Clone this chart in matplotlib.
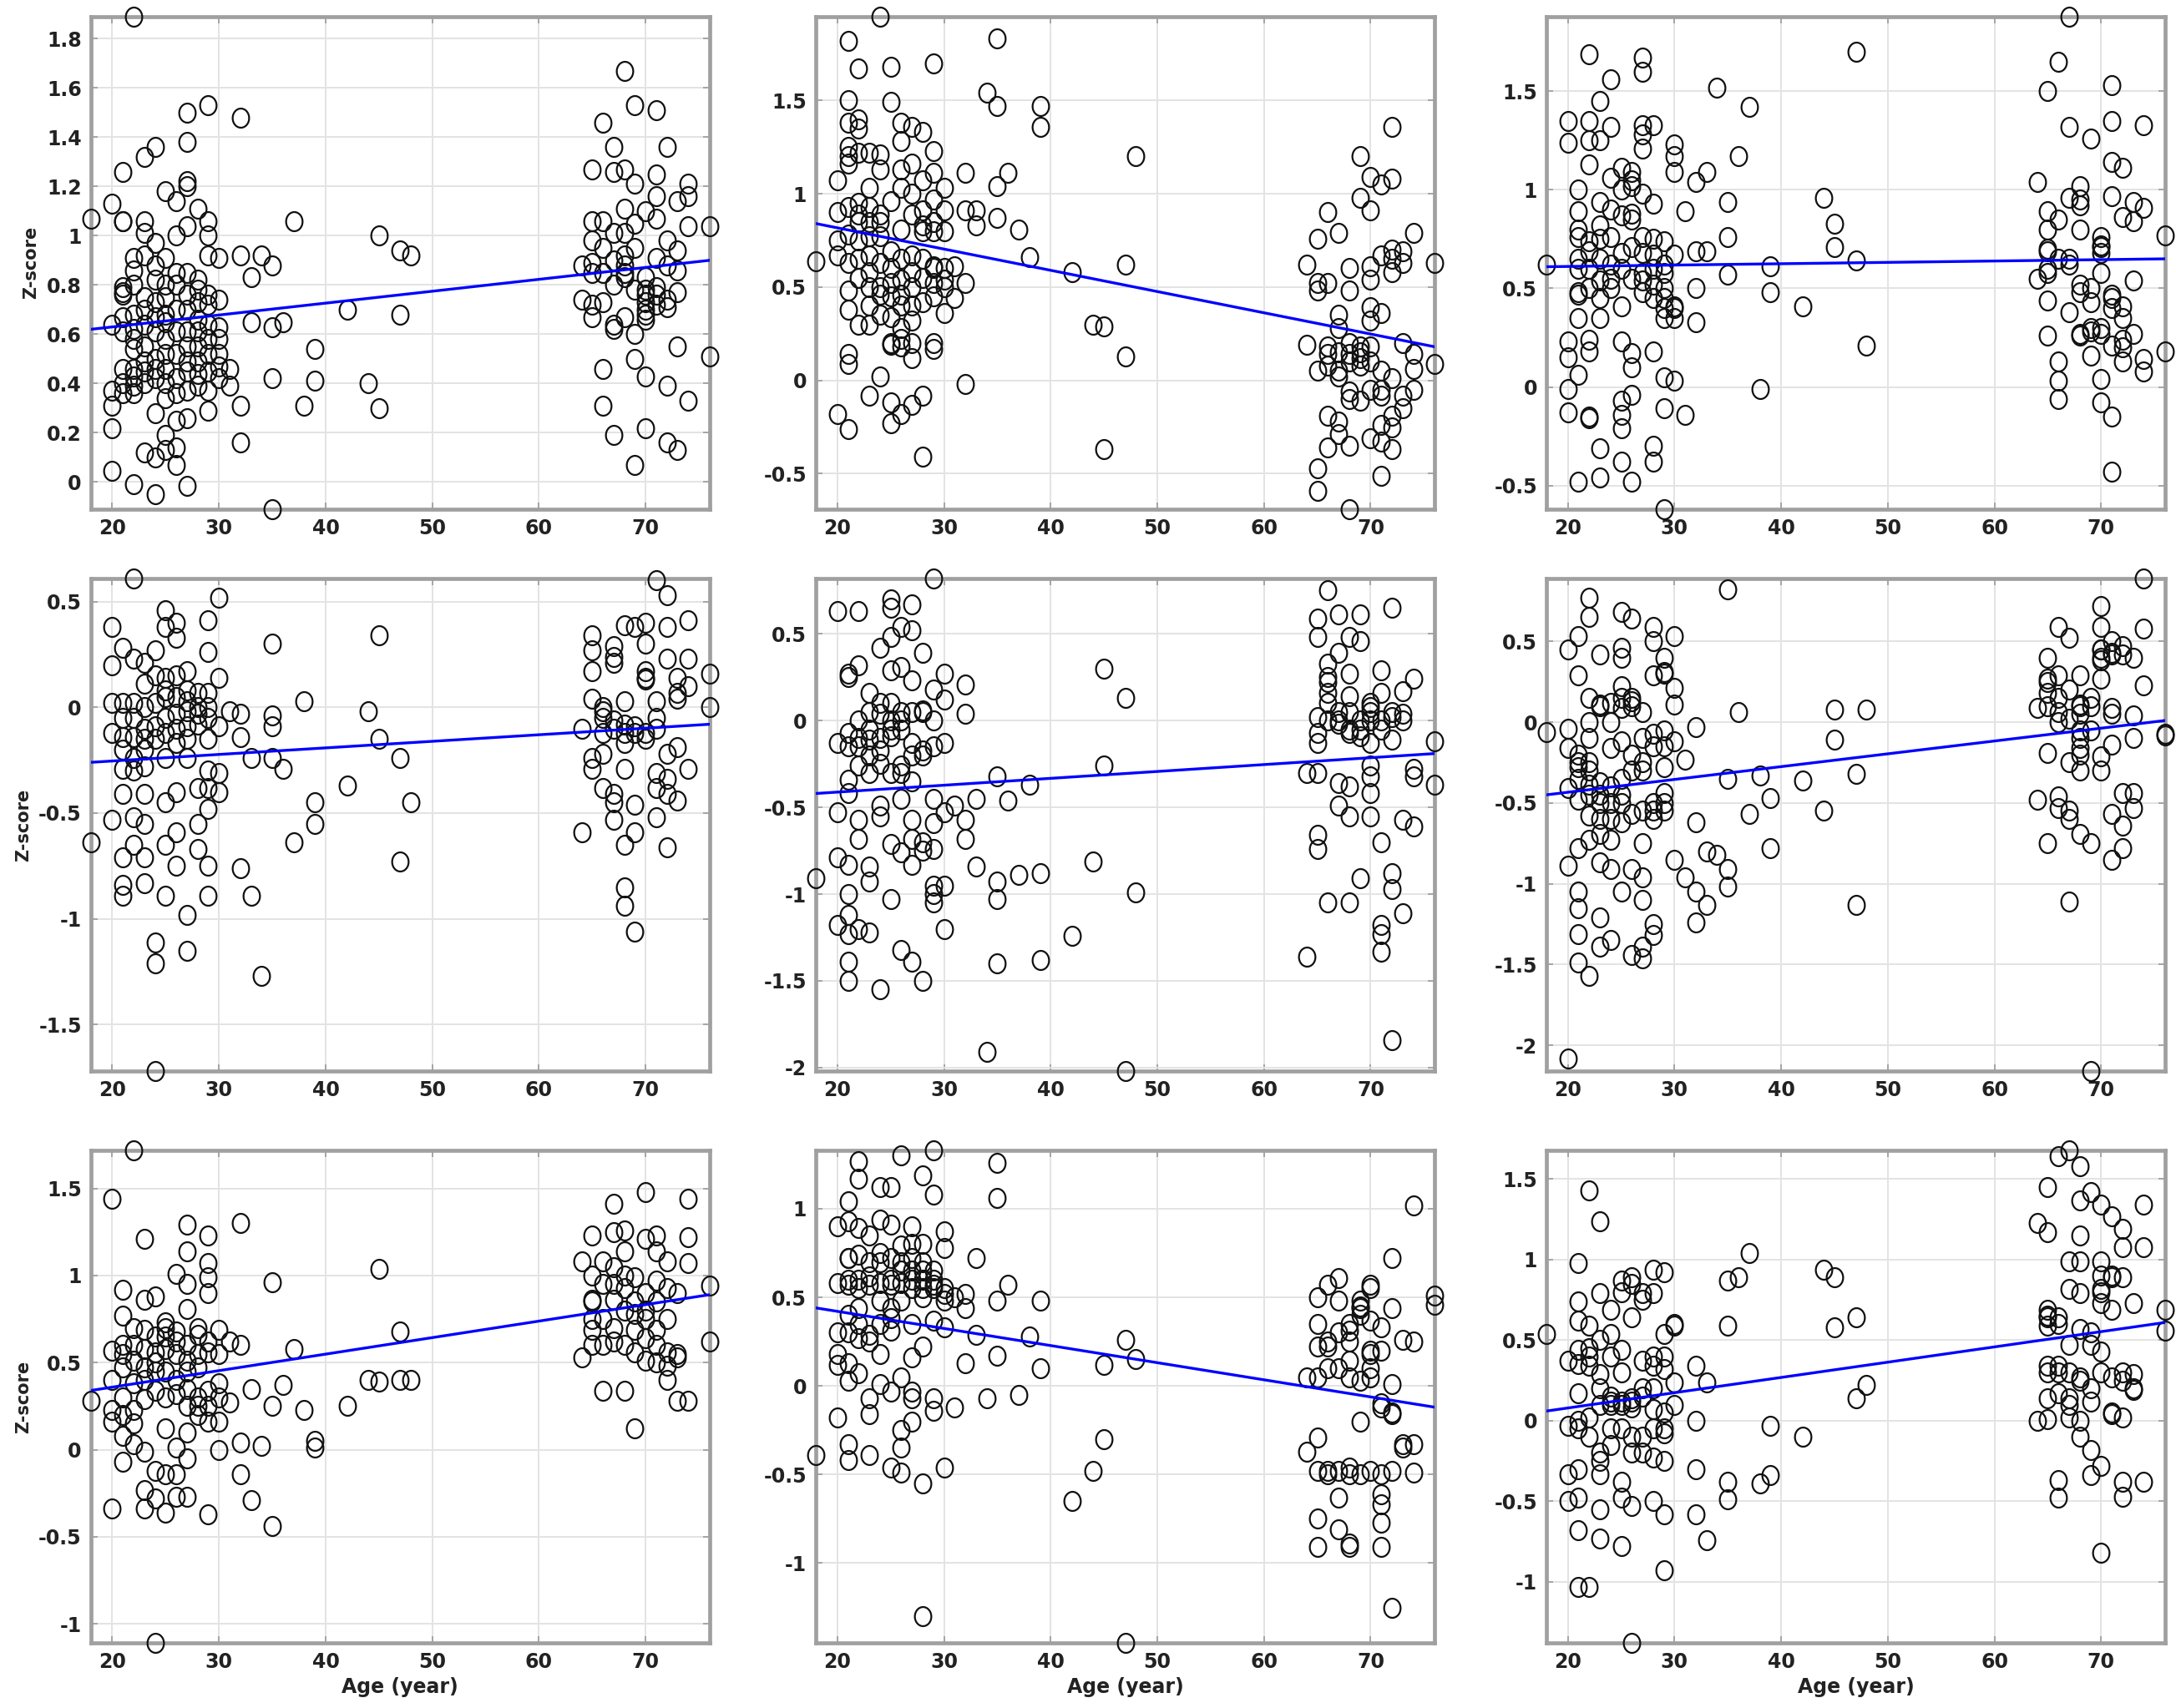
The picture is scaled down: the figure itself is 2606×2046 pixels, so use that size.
import numpy as np
import matplotlib
matplotlib.use("Agg")
from matplotlib import pyplot as plt
from matplotlib.path import Path
from matplotlib.ticker import MultipleLocator, FuncFormatter

plt.rcParams['font.family'] = ['DejaVu Sans']
plt.rcParams['font.weight'] = 'bold'

# z-scores, grouped by age (year)
p1 = {18: [1.07], 20: [1.13, 0.045, 0.22, 0.31, 0.37, 0.64],
      21: [1.26, 1.06, 1.06, 0.79, 0.77, 0.76, 0.67, 0.46, 0.40, 0.36, 0.61],
      22: [1.89, -0.01, 0.91, 0.86, 0.80, 0.68, 0.54, 0.46, 0.43, 0.39, 0.36, 0.62, 0.58],
      23: [1.32, 1.06, 1.01, 0.92, 0.64, 0.55, 0.49, 0.40, 0.12, 0.70, 0.75, 0.45],
      24: [1.36, 0.97, 0.88, 0.82, 0.73, 0.67, 0.61, 0.46, 0.28, 0.10, -0.05, 0.50, 0.42],
      25: [1.18, 0.91, 0.80, 0.68, 0.65, 0.52, 0.34, 0.19, 0.13, 0.46, 0.58, 0.40, 0.75],
      26: [1.14, 1.00, 0.85, 0.25, 0.14, 0.07, 0.52, 0.61, 0.42, 0.80, 0.70, 0.36],
      27: [1.50, 1.38, 1.22, 1.20, 1.04, 0.85, 0.76, 0.61, 0.49, 0.37, 0.26, -0.015, 0.70, 0.55, 0.45],
      28: [1.11, 0.82, 0.73, 0.61, 0.49, 0.39, 0.66, 0.55, 0.44, 0.78],
      29: [1.53, 1.06, 1.00, 0.92, 0.76, 0.64, 0.37, 0.29, 0.52, 0.58, 0.45, 0.72],
      30: [0.91, 0.74, 0.63, 0.52, 0.42, 0.58, 0.47], 31: [0.46, 0.39],
      32: [1.48, 0.92, 0.31, 0.16], 33: [0.83, 0.65], 34: [0.92],
      35: [0.88, 0.63, 0.42, -0.11], 36: [0.65], 37: [1.06], 38: [0.31],
      39: [0.54, 0.41], 42: [0.70], 44: [0.40], 45: [1.00, 0.30],
      47: [0.94, 0.68], 48: [0.92], 64: [0.88, 0.74],
      65: [1.27, 1.06, 0.98, 0.89, 0.67, 0.85, 0.72],
      66: [1.46, 1.06, 0.85, 0.73, 0.46, 0.31, 0.95],
      67: [1.36, 1.26, 1.01, 0.80, 0.64, 0.19, 0.90, 0.62],
      68: [1.67, 1.27, 1.11, 1.01, 0.92, 0.83, 0.67, 0.88, 0.85],
      69: [1.53, 1.21, 1.05, 0.60, 0.50, 0.07, 0.78, 0.95],
      70: [1.10, 0.83, 0.76, 0.68, 0.43, 0.22, 0.70, 0.73, 0.66, 0.78],
      71: [1.51, 1.25, 1.16, 1.07, 0.91, 0.79, 0.72, 0.76],
      72: [1.36, 0.98, 0.88, 0.71, 0.39, 0.16, 0.74],
      73: [1.14, 0.94, 0.55, 0.13, 0.77, 0.86],
      74: [1.21, 1.16, 1.04, 0.33], 76: [1.04, 0.51]}

p2 = {18: [0.64], 20: [1.07, 0.90, 0.75, 0.67, -0.18],
      21: [1.82, 1.50, 1.38, 1.20, 1.16, 0.93, 0.63, 0.48, 0.38, 0.14, 0.09, -0.26, 0.78, 1.25],
      22: [1.67, 1.40, 1.35, 1.22, 0.89, 0.85, 0.65, 0.30, 0.95, 0.75, 0.55],
      23: [1.22, 1.03, 0.93, 0.77, 0.67, 0.50, 0.40, -0.08, 0.85, 0.58, 0.30],
      24: [1.95, 1.21, 1.13, 0.89, 0.77, 0.63, 0.46, 0.02, 0.85, 0.50, 0.35],
      25: [1.68, 1.49, 0.96, 0.69, 0.52, 0.34, 0.19, -0.12, -0.23, 0.60, 0.45, 0.20],
      26: [1.38, 1.28, 1.13, 1.03, 0.81, 0.54, 0.46, 0.28, 0.18, -0.18, 0.65, 0.40, 0.22],
      27: [1.36, 1.16, 0.89, 0.67, 0.58, 0.40, 0.32, 0.12, -0.13, 1.00, 0.50, 0.20],
      28: [1.33, 1.07, 0.91, 0.83, 0.65, 0.42, -0.08, -0.41, 0.55, 0.80],
      29: [1.70, 1.23, 1.11, 0.97, 0.80, 0.61, 0.52, 0.20, 0.17, 0.85, 0.60, 0.45],
      30: [1.03, 0.91, 0.80, 0.54, 0.36, 0.50, 0.60], 31: [0.61, 0.44],
      32: [1.11, 0.91, 0.52, -0.02], 33: [0.91, 0.83], 34: [1.54],
      35: [1.83, 1.47, 1.04, 0.87], 36: [1.11], 37: [0.81], 38: [0.66],
      39: [1.47, 1.36], 42: [0.58], 44: [0.30], 45: [0.29, -0.37],
      47: [0.62, 0.13], 48: [1.20], 64: [0.62, 0.19],
      65: [0.76, 0.52, 0.48, 0.05, -0.47, -0.59],
      66: [0.90, 0.52, 0.14, -0.19, -0.36, 0.18, 0.08],
      67: [0.79, 0.35, 0.28, 0.02, -0.22, -0.29, 0.15, 0.05],
      68: [0.60, 0.48, 0.14, -0.06, -0.35, -0.69, 0.20, 0.10, -0.10],
      69: [1.20, 0.98, 0.18, 0.08, -0.11, 0.15, 0.12],
      70: [1.09, 0.91, 0.61, 0.54, 0.39, 0.32, -0.31, 0.18, -0.05, 0.10],
      71: [1.05, 0.67, 0.36, -0.05, -0.24, -0.33, -0.51, -0.08, 0.05],
      72: [1.36, 1.08, 0.65, 0.58, 0.01, -0.19, -0.37, 0.70, -0.25],
      73: [0.69, 0.20, -0.08, -0.15, 0.63],
      74: [0.79, 0.14, 0.06, -0.05], 76: [0.63, 0.09]}

p3 = {18: [0.62], 20: [1.35, 1.24, 0.23, 0.15, -0.01, -0.13],
      21: [1.00, 0.89, 0.76, 0.65, 0.48, 0.47, 0.35, 0.06, -0.48, 0.60, 0.80],
      22: [1.69, 1.35, 1.25, 1.13, 0.74, 0.69, 0.24, 0.18, -0.15, -0.16, 0.60, 0.50],
      23: [1.45, 1.25, 0.94, 0.82, 0.54, 0.35, -0.31, -0.46, 0.65, 0.45, 0.75],
      24: [1.56, 1.32, 1.06, 0.76, 0.50, 0.55, 0.62, 0.90],
      25: [1.11, 1.00, 0.87, 0.41, 0.23, -0.07, -0.14, -0.21, -0.38, 0.60, 0.68],
      26: [1.09, 1.02, 0.85, 0.71, 0.17, 0.10, -0.04, -0.48, 0.55, 0.88, 1.05],
      27: [1.67, 1.60, 1.33, 1.28, 1.21, 0.98, 0.76, 0.54, 0.48, 0.68, 0.58],
      28: [1.33, 0.93, 0.67, 0.52, 0.18, -0.30, -0.38, 0.60, 0.45, 0.75],
      29: [0.74, 0.58, 0.45, 0.35, 0.05, -0.11, -0.62, 0.62, 0.50, 0.40],
      30: [1.23, 1.17, 1.09, 0.67, 0.41, 0.35, 0.03, 0.40], 31: [0.89, -0.14],
      32: [1.04, 0.50, 0.33, 0.69], 33: [1.09, 0.69], 34: [1.52],
      35: [0.94, 0.76, 0.57], 36: [1.17], 37: [1.42], 38: [-0.01],
      39: [0.61, 0.48], 42: [0.41], 44: [0.96], 45: [0.83, 0.71],
      47: [1.70, 0.64], 48: [0.21], 64: [1.04, 0.55],
      65: [1.50, 0.89, 0.80, 0.69, 0.58, 0.44, 0.26, 0.70, 0.60],
      66: [1.65, 0.13, 0.03, -0.06, 0.85, 0.65],
      67: [1.88, 1.32, 0.96, 0.65, 0.38, 0.62],
      68: [1.02, 0.95, 0.80, 0.52, 0.26, 0.92, 0.48, 0.27],
      69: [1.26, 0.50, 0.43, 0.28, 0.16, 0.30],
      70: [0.76, 0.71, 0.58, 0.27, 0.04, -0.08, 0.72, 0.68, 0.30],
      71: [1.53, 1.35, 1.14, 0.97, 0.47, 0.21, -0.15, -0.43, 0.45, 0.40],
      72: [1.11, 0.86, 0.41, 0.24, 0.13, 0.35, 0.20],
      73: [0.94, 0.84, 0.54, 0.27], 74: [1.33, 0.91, 0.14, 0.08], 76: [0.77, 0.18]}

p4 = {18: [-0.64], 20: [0.38, 0.20, 0.02, -0.12, -0.53],
      21: [0.28, -0.05, -0.14, -0.29, -0.41, -0.71, -0.84, -0.89, 0.02, -0.20],
      22: [0.61, 0.23, 0.02, -0.14, -0.24, -0.52, -0.65, -0.05, -0.30],
      23: [0.21, 0.11, 0.00, -0.10, -0.28, -0.41, -0.55, -0.71, -0.83, -0.15, -0.20],
      24: [0.27, 0.15, -0.09, -1.11, -1.21, -1.72, -0.15, 0.02],
      25: [0.46, 0.38, 0.14, 0.05, -0.24, -0.45, -0.65, -0.89, 0.08, -0.05, -0.12],
      26: [0.40, 0.33, 0.15, -0.03, -0.17, -0.40, -0.59, -0.75, 0.05, -0.10],
      27: [0.17, 0.03, -0.09, -0.24, -0.98, -1.15, 0.08, -0.02, -0.15],
      28: [0.07, -0.03, -0.38, -0.55, -0.67, -0.08, 0.00],
      29: [0.41, 0.26, 0.07, -0.15, -0.38, -0.48, -0.75, -0.89, -0.05, -0.30, 0.00],
      30: [0.52, 0.14, -0.09, -0.31, -0.40], 31: [-0.02],
      32: [-0.03, -0.14, -0.76], 33: [-0.24, -0.89], 34: [-1.27],
      35: [0.30, -0.04, -0.09, -0.24], 36: [-0.29], 37: [-0.64], 38: [0.03],
      39: [-0.45, -0.55], 42: [-0.37], 44: [-0.02], 45: [0.34, -0.15],
      47: [-0.24, -0.73], 48: [-0.45], 64: [-0.10, -0.59],
      65: [0.34, 0.27, 0.17, 0.04, -0.24, -0.29],
      66: [0.00, -0.12, -0.22, -0.38, -0.05, -0.02],
      67: [0.29, 0.24, 0.21, -0.06, -0.41, -0.45, -0.53, -0.10],
      68: [0.39, 0.03, -0.17, -0.29, -0.65, -0.85, -0.94, -0.08, -0.12],
      69: [0.38, -0.09, -0.46, -0.59, -1.06, -0.12],
      70: [0.40, 0.30, 0.17, 0.14, -0.12, -0.15, 0.13],
      71: [0.60, 0.03, -0.05, -0.31, -0.38, -0.52, -0.10],
      72: [0.53, 0.38, 0.23, -0.22, -0.34, -0.41, -0.66],
      73: [0.14, 0.07, 0.04, -0.19, -0.44], 74: [0.41, 0.23, 0.10, -0.29],
      76: [0.16, 0.00]}

p5 = {18: [-0.91], 20: [0.63, -0.13, -0.53, -0.79, -1.18],
      21: [0.25, -0.07, -0.34, -0.42, -0.83, -1.00, -1.12, -1.23, -1.39, -1.50, -0.15, 0.27],
      22: [0.63, 0.32, 0.00, -0.26, -0.57, -0.68, -1.20, -0.10, -0.15],
      23: [0.16, -0.11, -0.30, -0.84, -0.93, -1.22, -0.20, -0.05, 0.05],
      24: [0.42, 0.04, -0.17, -0.49, -1.55, -0.10, -0.25, 0.10, -0.55],
      25: [0.70, 0.65, 0.48, 0.29, 0.10, -0.09, -0.71, -1.03, -0.05, 0.00, -0.30],
      26: [0.54, 0.31, 0.00, -0.26, -0.45, -0.76, -1.32, -0.05, 0.05, -0.30],
      27: [0.67, 0.52, 0.23, -0.13, -0.57, -0.68, -0.83, -1.39, -0.20, 0.05, -0.35],
      28: [0.39, 0.06, -0.17, -0.70, -1.50, -0.20, 0.05, -0.75],
      29: [0.82, 0.18, -0.45, -0.59, -0.74, -0.95, -1.05, -0.15, 0.00, -1.00],
      30: [0.27, 0.12, -0.13, -0.53, -1.20, -0.95], 31: [-0.49],
      32: [0.21, 0.04, -0.57, -0.68], 33: [-0.45, -0.84], 34: [-1.91],
      35: [-0.32, -0.93, -1.03, -1.40], 36: [-0.46], 37: [-0.89], 38: [-0.37],
      39: [-0.88, -1.38], 42: [-1.24], 44: [-0.81], 45: [0.30, -0.26],
      47: [0.13, -2.02], 48: [-0.99], 64: [-0.30, -1.36],
      65: [0.59, 0.48, 0.02, -0.07, -0.13, -0.30, -0.66, -0.74],
      66: [0.75, 0.33, 0.25, 0.16, 0.00, -1.05, 0.10, 0.22],
      67: [0.61, 0.39, 0.00, -0.36, -0.49, -0.02, 0.05],
      68: [0.48, 0.27, 0.14, -0.07, -0.38, -0.55, -1.05, 0.05, -0.05],
      69: [0.61, 0.46, -0.09, -0.91, 0.00, -0.05],
      70: [0.08, 0.00, -0.13, -0.26, -0.32, -0.42, -0.55, 0.05, 0.10],
      71: [0.29, 0.16, -0.05, -0.70, -1.18, -1.23, -1.33, 0.00],
      72: [0.65, 0.02, -0.11, -0.88, -0.97, -1.84, 0.05],
      73: [0.17, 0.04, -0.57, -1.11, 0.00], 74: [0.24, -0.28, -0.32, -0.61],
      76: [-0.12, -0.37]}

p6 = {18: [-0.06], 20: [0.45, -0.04, -0.16, -0.41, -0.89, -2.08],
      21: [0.53, 0.29, -0.25, -0.28, -0.48, -0.78, -1.05, -1.15, -1.31, -1.49, -0.20, -0.35],
      22: [0.77, 0.65, 0.15, 0.00, -0.30, -0.39, -0.58, -0.73, -1.57, -0.45, -0.25, -0.10],
      23: [0.42, 0.11, -0.37, -0.69, -0.87, -1.21, -1.39, -0.50, -0.60, -0.45, 0.10],
      24: [0.00, -0.16, -0.50, -0.73, -0.91, -1.35, 0.12, -0.40, -0.60],
      25: [0.68, 0.46, 0.22, 0.09, -0.12, -0.35, -0.62, -1.05, 0.15, 0.40, -0.45, -0.50],
      26: [0.64, 0.13, -0.30, -0.57, -0.91, -1.44, 0.10, 0.15, -0.20],
      27: [0.06, -0.30, -0.75, -0.96, -1.10, -1.46, -1.39, -0.25, -0.55, -0.10],
      28: [0.59, 0.50, 0.29, -0.07, -0.55, -1.25, -1.32, -0.60, -0.50, -0.15],
      29: [0.40, 0.31, -0.05, -0.28, -0.44, -0.50, -0.55, 0.30, -0.15],
      30: [0.53, 0.21, 0.11, -0.12, -0.85], 31: [-0.23, -0.96],
      32: [-0.03, -0.62, -1.05, -1.24], 33: [-0.80, -1.13], 34: [-0.82],
      35: [0.82, -0.35, -0.91, -1.02], 36: [0.06], 37: [-0.57], 38: [-0.33],
      39: [-0.47, -0.78], 42: [-0.36], 44: [-0.55], 45: [0.08, -0.11],
      47: [-0.32, -1.13], 48: [0.08], 64: [0.09, -0.48],
      65: [0.40, 0.27, 0.18, -0.19, -0.75, 0.10, 0.25],
      66: [0.59, 0.29, 0.06, -0.46, -0.53, 0.00, 0.15],
      67: [0.52, 0.02, -0.55, -0.60, -1.11, 0.20, -0.25],
      68: [0.29, 0.11, -0.10, -0.16, -0.30, -0.69, 0.10, 0.05, -0.05, -0.20],
      69: [0.15, -0.05, -0.75, -2.16, 0.10],
      70: [0.72, 0.59, 0.45, 0.38, 0.27, -0.21, -0.30, 0.40, 0.45],
      71: [0.50, 0.43, 0.09, -0.14, -0.57, -0.85, 0.42, 0.05],
      72: [0.47, -0.44, -0.64, -0.78, 0.42],
      73: [0.40, 0.04, -0.10, -0.44, -0.53], 74: [0.89, 0.58, 0.23],
      76: [-0.07, -0.08]}

p7 = {18: [0.28], 20: [1.44, 0.57, 0.40, 0.23, 0.16, -0.34],
      21: [0.92, 0.77, 0.60, 0.47, 0.08, -0.07, 0.30, 0.20, 0.55],
      22: [1.72, 0.51, 0.38, 0.23, 0.03, 0.60, 0.70, 0.15],
      23: [1.21, 0.86, 0.69, 0.47, 0.29, -0.01, -0.23, -0.34, 0.58, 0.40],
      24: [0.88, 0.56, 0.34, -0.12, -0.28, -1.11, 0.65, 0.45, 0.50],
      25: [0.73, 0.58, 0.45, 0.12, -0.14, -0.36, 0.65, 0.30, 0.70],
      26: [1.01, 0.62, 0.32, 0.01, -0.14, -0.27, 0.68, 0.55, 0.40],
      27: [1.29, 1.14, 0.95, 0.81, 0.51, 0.25, 0.10, -0.05, -0.27, 0.60, 0.45, 0.35],
      28: [0.66, 0.47, 0.25, 0.70, 0.55, 0.30, 0.20],
      29: [1.23, 1.07, 0.99, 0.90, 0.56, 0.34, 0.16, -0.37, 0.62, 0.25],
      30: [0.69, 0.38, 0.16, 0.00, 0.30, 0.55], 31: [0.62, 0.27],
      32: [1.30, 0.60, 0.04, -0.14], 33: [0.35, -0.29], 34: [0.02],
      35: [0.96, 0.25, -0.44], 36: [0.37], 37: [0.58], 38: [0.23],
      39: [0.05, 0.01], 42: [0.25], 44: [0.40], 45: [1.04, 0.39],
      47: [0.68, 0.40], 48: [0.40], 64: [1.08, 0.53],
      65: [1.23, 0.86, 0.69, 0.60, 0.85, 0.75, 1.00],
      66: [0.34, 1.08, 0.75, 0.95, 0.60],
      67: [1.41, 1.25, 0.86, 0.62, 1.05, 0.70, 0.95],
      68: [1.26, 1.14, 0.93, 0.60, 0.34, 0.80, 1.00],
      69: [0.99, 0.69, 0.56, 0.12, 0.85, 0.78],
      70: [1.48, 1.21, 0.80, 0.64, 0.51, 0.90, 0.75],
      71: [1.23, 1.14, 0.97, 0.69, 0.85, 0.60, 0.50],
      72: [1.08, 0.93, 0.56, 0.40, 0.75, 0.48],
      73: [0.90, 0.53, 0.28, 0.55], 74: [1.44, 1.22, 1.07, 0.28],
      76: [0.94, 0.62]}

p8 = {18: [-0.39], 20: [0.90, 0.58, 0.30, 0.18, 0.12, -0.18],
      21: [1.04, 0.93, 0.72, 0.57, 0.40, 0.13, 0.03, -0.33, -0.42, 0.72, 0.60, 0.30],
      22: [1.27, 1.17, 0.89, 0.74, 0.44, 0.27, 0.07, 0.55, 0.60, 0.35],
      23: [0.85, 0.57, 0.29, -0.07, -0.16, -0.39, 0.62, 0.70, 0.25],
      24: [1.12, 0.94, 0.70, 0.48, 0.18, 0.01, 0.58, 0.35, 0.75],
      25: [1.12, 0.91, 0.57, 0.44, 0.31, -0.03, -0.46, 0.60, 0.38, 0.72],
      26: [1.30, 0.79, 0.48, 0.05, -0.25, -0.35, -0.49, 0.58, 0.70, 0.65],
      27: [0.90, 0.72, 0.35, 0.16, -0.03, -0.07, -0.20, 0.65, 0.80, 0.55, 0.60],
      28: [1.19, 0.80, 0.65, 0.22, -0.55, -1.30, 0.60, 0.70, 0.55, 0.50],
      29: [1.33, 1.08, 0.57, 0.37, -0.07, -0.14, 0.55, 0.65, 0.60],
      30: [0.87, 0.78, 0.48, 0.33, -0.46, 0.52, 0.55], 31: [0.50, -0.12],
      32: [0.52, 0.44, 0.13], 33: [0.72, 0.29], 34: [-0.07],
      35: [1.26, 1.06, 0.48, 0.17], 36: [0.57], 37: [-0.05], 38: [0.28],
      39: [0.48, 0.10], 42: [-0.65], 44: [-0.48], 45: [0.12, -0.30],
      47: [0.26, -1.45], 48: [0.15], 64: [0.05, -0.37],
      65: [0.50, 0.35, 0.22, 0.05, -0.29, -0.48, -0.75, -0.91],
      66: [0.57, 0.22, -0.48, 0.25, 0.10, -0.50],
      67: [0.61, 0.48, 0.10, -0.63, -0.81, 0.30, -0.48],
      68: [0.31, 0.14, -0.46, -0.89, -0.91, 0.25, 0.05, 0.35, -0.50],
      69: [0.48, 0.44, 0.03, -0.20, 0.40, 0.45, -0.50],
      70: [0.57, 0.37, 0.18, 0.10, -0.48, 0.05, 0.20, 0.55],
      71: [0.33, -0.12, -0.61, -0.67, -0.77, -0.91, 0.20, -0.10, -0.50],
      72: [0.72, 0.44, 0.01, -0.16, -0.48, -1.25, -0.15],
      73: [0.26, -0.33, -0.35], 74: [1.02, 0.25, -0.33, -0.49],
      76: [0.51, 0.46]}

p9 = {18: [0.54], 20: [0.37, -0.03, -0.33, -0.50],
      21: [0.98, 0.74, 0.62, 0.44, 0.17, -0.05, -0.48, -0.68, -1.03, 0.35, 0.00, -0.30],
      22: [1.43, 0.59, 0.34, 0.02, -1.03, 0.45, -0.10, 0.40],
      23: [1.24, 0.79, 0.29, -0.25, -0.33, -0.55, -0.73, 0.10, 0.20, 0.50, -0.20],
      24: [0.69, 0.54, 0.12, -0.15, 0.15, 0.40, 0.10, -0.05],
      25: [0.87, 0.44, -0.05, -0.38, -0.48, -0.78, 0.12, 0.10, 0.80, 0.30],
      26: [0.89, 0.64, 0.14, -0.20, -0.53, -1.38, 0.12, 0.08, 0.85, -0.10],
      27: [0.79, 0.37, -0.10, 0.15, 0.20, 0.75, -0.20],
      28: [0.94, 0.79, 0.34, 0.07, -0.23, -0.50, 0.40, 0.20, -0.05],
      29: [0.92, 0.54, 0.32, -0.05, -0.25, -0.58, -0.93, -0.08, 0.05, 0.40],
      30: [0.59, 0.24, 0.60, 0.10], 32: [0.34, 0.00, -0.30, -0.58],
      33: [0.24, -0.74], 35: [0.87, 0.59, -0.38, -0.49], 36: [0.89],
      37: [1.04], 38: [-0.39], 39: [-0.03, -0.34], 42: [-0.10], 44: [0.94],
      45: [0.89, 0.58], 47: [0.64, 0.14], 48: [0.22], 64: [1.23, 0.00],
      65: [1.45, 1.17, 0.69, 0.64, 0.59, 0.34, 0.14, 0.01, 0.30, 0.65],
      66: [1.64, 0.64, 0.34, 0.17, -0.37, -0.48, 0.60, 0.30],
      67: [1.68, 0.99, 0.82, 0.47, 0.14, 0.02, 0.30, 0.10],
      68: [1.58, 1.37, 1.15, 0.99, 0.79, 0.57, 0.27, -0.10, 0.00, 0.25],
      69: [1.42, 0.47, 0.12, -0.18, -0.34, 0.55, 0.20],
      70: [1.34, 0.99, 0.82, 0.73, 0.43, -0.82, -0.28, 0.90, 0.30, 0.80],
      71: [1.27, 0.89, 0.69, 0.27, 0.04, 0.90, 0.05],
      72: [1.19, 1.08, 0.89, 0.02, -0.38, -0.47, 0.25, 0.30],
      73: [0.73, 0.29, 0.19, 0.20], 74: [1.34, 1.08, -0.38], 76: [0.69, 0.56]}

panels = [p1, p2, p3, p4, p5, p6, p7, p8, p9]

# regression line values read at age 18 and age 76
fit_left = [0.62, 0.84, 0.61, -0.26, -0.42, -0.45, 0.34, 0.44, 0.06]
fit_right = [0.90, 0.18, 0.65, -0.08, -0.19, 0.01, 0.89, -0.12, 0.61]
fit_ages = [18, 76]

ytick_step = [0.2, 0.5, 0.5, 0.5, 0.5, 0.5, 0.5, 0.5, 0.5]
xticks = [20, 30, 40, 50, 60, 70]


def _flatten(panel):
    ages = []
    zs = []
    for age, vals in panel.items():
        ages.extend([age] * len(vals))
        zs.extend(vals)
    return np.array(ages, dtype=float), np.array(zs)


# slightly tall open circle, like the stretched markers in the original
t = np.linspace(0, 2 * np.pi, 61)
ell = Path(np.column_stack((0.86 * np.cos(t), np.sin(t))), closed=True)

fig = plt.figure(figsize=(26.06, 20.46), dpi=100)
col_left = [0.0418, 0.375, 0.7107]
row_bottom = [0.7019, 0.3729, 0.0381]
ax_w, ax_h = 0.2843, 0.2885
fmt = FuncFormatter(lambda v, pos: '%g' % round(v, 4))

for k, panel in enumerate(panels):
    r, c = divmod(k, 3)
    ax = fig.add_axes([col_left[c], row_bottom[r], ax_w, ax_h])
    age, z = _flatten(panel)

    ax.plot(age, z, linestyle='none', marker=ell, mfc='none', mec='#111111',
            ms=16.5, mew=1.6, clip_on=False, zorder=3)
    ax.plot(fit_ages, [fit_left[k], fit_right[k]], color='#0000ff', lw=2.4,
            zorder=4)

    ax.set_xlim(18, 76)
    ax.set_ylim(z.min(), z.max())
    ax.set_xticks(xticks)
    ax.yaxis.set_major_locator(MultipleLocator(ytick_step[k]))
    ax.yaxis.set_major_formatter(fmt)
    ax.xaxis.set_major_formatter(fmt)

    ax.grid(True, color='#e3e3e3', lw=1.4)
    ax.set_axisbelow(True)
    for s in ax.spines.values():
        s.set_color('#a0a0a0')
        s.set_linewidth(3.4)
    ax.tick_params(direction='in', length=6, width=1.2, color='#9a9a9a',
                   top=True, right=True, labelsize=17, labelcolor='#222222',
                   pad=8)
    for lab in ax.get_xticklabels() + ax.get_yticklabels():
        lab.set_fontweight('bold')

    if c == 0:
        ax.set_ylabel('Z-score', fontsize=15, fontweight='bold',
                      color='#222222', labelpad=6)
    if r == 2:
        ax.set_xlabel('Age (year)', fontsize=17, fontweight='bold',
                      color='#222222', labelpad=4)

fig.savefig('out.png', dpi=100, facecolor='white')
